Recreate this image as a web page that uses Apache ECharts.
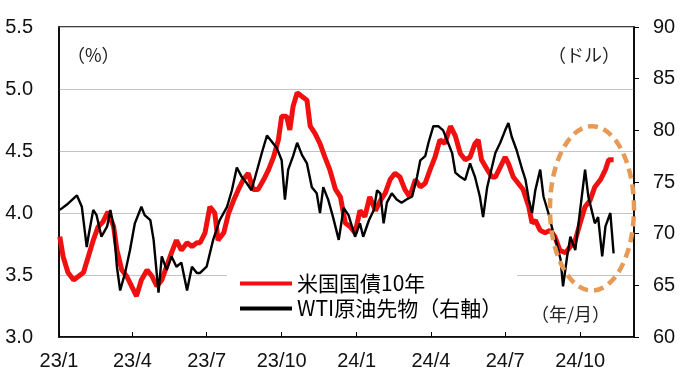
<!DOCTYPE html>
<html><head><meta charset="utf-8">
<script src="https://cdn.jsdelivr.net/npm/echarts@6/dist/echarts.min.js"></script>
<style>html,body{margin:0;padding:0;background:#fff}#c{width:680px;height:379px}</style>
</head><body><div id="c"></div>
<script>
// x positions are days since 2023-01-01
const tickDays = [0, 90, 181, 273, 365, 456, 547, 639];
const tickLabels = ['23/1', '23/4', '23/7', '23/10', '24/1', '24/4', '24/7', '24/10'];
const seriesNames = ['米国国債10年', 'WTI原油先物（右軸）'];

const yieldDays = [1,5,11,18,24,30,36,42,48,54,60,67,71,77,83,89,95,101,108,114,120,126,132,138,144,150,157,163,169,173,179,185,191,195,202,208,214,220,226,232,238,244,251,257,263,269,273,279,283,287,292,298,304,308,314,320,326,332,339,345,351,357,363,369,375,381,388,394,400,406,412,418,424,430,437,443,449,455,461,467,473,480,486,492,498,504,510,514,518,525,531,535,541,547,551,557,563,569,576,580,584,590,596,602,608,614,621,627,633,639,645,651,657,664,670,674,680];
const yieldValues = [3.81,3.65,3.52,3.46,3.49,3.52,3.65,3.78,3.89,3.93,4.01,3.89,3.70,3.54,3.49,3.41,3.33,3.46,3.54,3.49,3.41,3.46,3.57,3.68,3.78,3.70,3.76,3.73,3.76,3.76,3.84,4.05,4.00,3.78,3.84,4.00,4.10,4.19,4.27,4.32,4.19,4.19,4.27,4.35,4.45,4.59,4.78,4.78,4.67,4.86,4.97,4.94,4.91,4.70,4.64,4.56,4.45,4.35,4.19,4.13,3.92,3.89,3.84,4.02,3.97,4.13,4.02,4.10,4.16,4.27,4.32,4.29,4.19,4.13,4.27,4.21,4.24,4.35,4.45,4.59,4.56,4.70,4.62,4.48,4.43,4.45,4.56,4.59,4.43,4.35,4.29,4.29,4.37,4.45,4.40,4.29,4.24,4.19,4.05,3.92,3.94,3.86,3.84,3.86,3.81,3.70,3.68,3.73,3.78,3.92,4.05,4.10,4.21,4.27,4.35,4.43,4.43];

const wtiDays = [1,11,22,28,34,36,42,46,52,59,63,67,71,75,81,87,93,101,105,112,116,122,126,132,138,144,150,157,163,169,173,181,189,197,206,212,218,224,230,236,242,249,255,261,267,273,277,281,287,292,298,304,310,316,320,324,330,336,343,349,355,363,369,373,380,386,390,394,398,402,408,414,420,426,433,439,443,449,453,459,465,471,477,482,486,492,498,504,510,516,520,525,531,535,541,547,551,555,561,568,572,576,580,584,590,594,600,606,610,615,618,623,627,633,639,645,649,653,657,661,666,670,676,680];
const wtiValues = [72.3,72.9,73.7,72.6,68.7,69.7,72.3,71.8,69.7,70.7,72.3,70.7,66.8,64.5,66.2,68.4,71.0,72.6,71.8,71.3,69.4,64.3,67.8,66.5,67.8,66.8,67.2,64.5,66.8,66.2,66.2,66.8,69.4,71.3,72.6,74.2,76.4,75.5,74.9,74.2,75.9,77.9,79.5,78.9,78.3,77.1,73.3,76.2,77.5,78.8,77.6,76.8,74.5,73.9,72.0,74.5,73.3,71.6,69.4,72.5,71.8,69.7,71.0,69.7,71.3,72.3,74.2,73.9,71.0,73.0,73.9,73.3,73.0,73.3,73.6,75.5,77.1,77.5,78.8,80.4,80.4,80.0,78.8,77.8,75.9,75.5,75.2,76.8,75.5,73.6,71.6,74.5,76.5,77.8,78.8,80.0,80.7,79.4,78.1,76.2,75.2,73.3,72.0,74.2,76.2,73.6,72.0,70.1,69.1,67.5,64.9,67.8,69.7,68.4,72.3,76.2,73.6,72.3,71.0,71.6,67.8,70.7,72.0,68.1];

// annotation ellipse bounds (days, right-axis dollars)
const ringDays = [602, 705];
const ringValues = [64.5, 80.4];

const pair = (xs, ys) => xs.map((x, i) => [x, ys[i]]);
const numFont = 'Liberation Sans';
const cjkFont = 'Noto Sans CJK JP';

const chart = echarts.init(document.getElementById('c'), null, {renderer: 'canvas'});
chart.setOption({
  animation: false,
  backgroundColor: '#fff',
  grid: {left: 59, right: 46, top: 27, bottom: 42, show: true, borderColor: '#000', borderWidth: 1.5, backgroundColor: 'transparent'},
  legend: {
    orient: 'vertical', left: 227, top: 268,
    backgroundColor: '#fff', padding: [5, 15, 6, 13],
    itemWidth: 52, itemHeight: 4, itemGap: 4, icon: 'rect',
    textStyle: {fontSize: 21, lineHeight: 20, color: '#000', fontFamily: cjkFont},
    data: seriesNames
  },
  xAxis: {
    type: 'value', min: 0, max: 705,
    splitLine: {show: false},
    axisLine: {lineStyle: {color: '#000', width: 1.5}},
    axisTick: {show: true, inside: true, length: 5, customValues: tickDays, lineStyle: {color: '#000'}},
    axisLabel: {customValues: tickDays, margin: 14, fontSize: 20, color: '#111', fontFamily: numFont,
      formatter: v => tickLabels[tickDays.indexOf(v)] || ''}
  },
  yAxis: [{
    type: 'value', min: 3, max: 5.5, interval: 0.5, position: 'left',
    axisLine: {show: true, lineStyle: {color: '#000', width: 1.5}},
    axisTick: {show: false},
    splitLine: {show: true, lineStyle: {color: '#c4c4c4', width: 1.2}},
    axisLabel: {margin: 26, fontSize: 20, color: '#111', fontFamily: numFont, formatter: v => v.toFixed(1)}
  }, {
    type: 'value', min: 60, max: 90, interval: 5, position: 'right',
    axisLine: {show: true, lineStyle: {color: '#000', width: 1.5}},
    axisTick: {show: true, inside: false, length: 5, lineStyle: {color: '#000'}},
    splitLine: {show: false},
    axisLabel: {margin: 19, fontSize: 20, color: '#111', fontFamily: numFont}
  }],
  series: [{
    name: seriesNames[0], type: 'line', yAxisIndex: 0, showSymbol: false, symbol: 'none',
    color: '#f01010', lineStyle: {width: 5, color: '#f01010'},
    data: pair(yieldDays, yieldValues)
  }, {
    name: seriesNames[1], type: 'line', yAxisIndex: 1, showSymbol: false, symbol: 'none',
    color: '#000', lineStyle: {width: 2.4, color: '#000'},
    data: pair(wtiDays, wtiValues)
  }]
});

const p1 = chart.convertToPixel({xAxisIndex: 0, yAxisIndex: 1}, [ringDays[0], ringValues[1]]);
const p2 = chart.convertToPixel({xAxisIndex: 0, yAxisIndex: 1}, [ringDays[1], ringValues[0]]);
const noteStyle = {fontSize: 18, fontFamily: cjkFont, fill: '#222'};
chart.setOption({
  graphic: [
    {type: 'text', left: 67, top: 46, style: Object.assign({text: '（%）'}, noteStyle)},
    {type: 'text', left: 548, top: 46, style: Object.assign({text: '（ドル）'}, noteStyle)},
    {type: 'text', left: 531, top: 305, style: Object.assign({text: '（年/月）'}, noteStyle)},
    {type: 'ellipse', z: 100,
      shape: {cx: (p1[0] + p2[0]) / 2, cy: (p1[1] + p2[1]) / 2, rx: Math.abs(p2[0] - p1[0]) / 2, ry: Math.abs(p2[1] - p1[1]) / 2},
      style: {fill: 'none', stroke: '#e69a55', lineWidth: 4.5, lineDash: [10, 6]}}
  ]
});
</script></body></html>
